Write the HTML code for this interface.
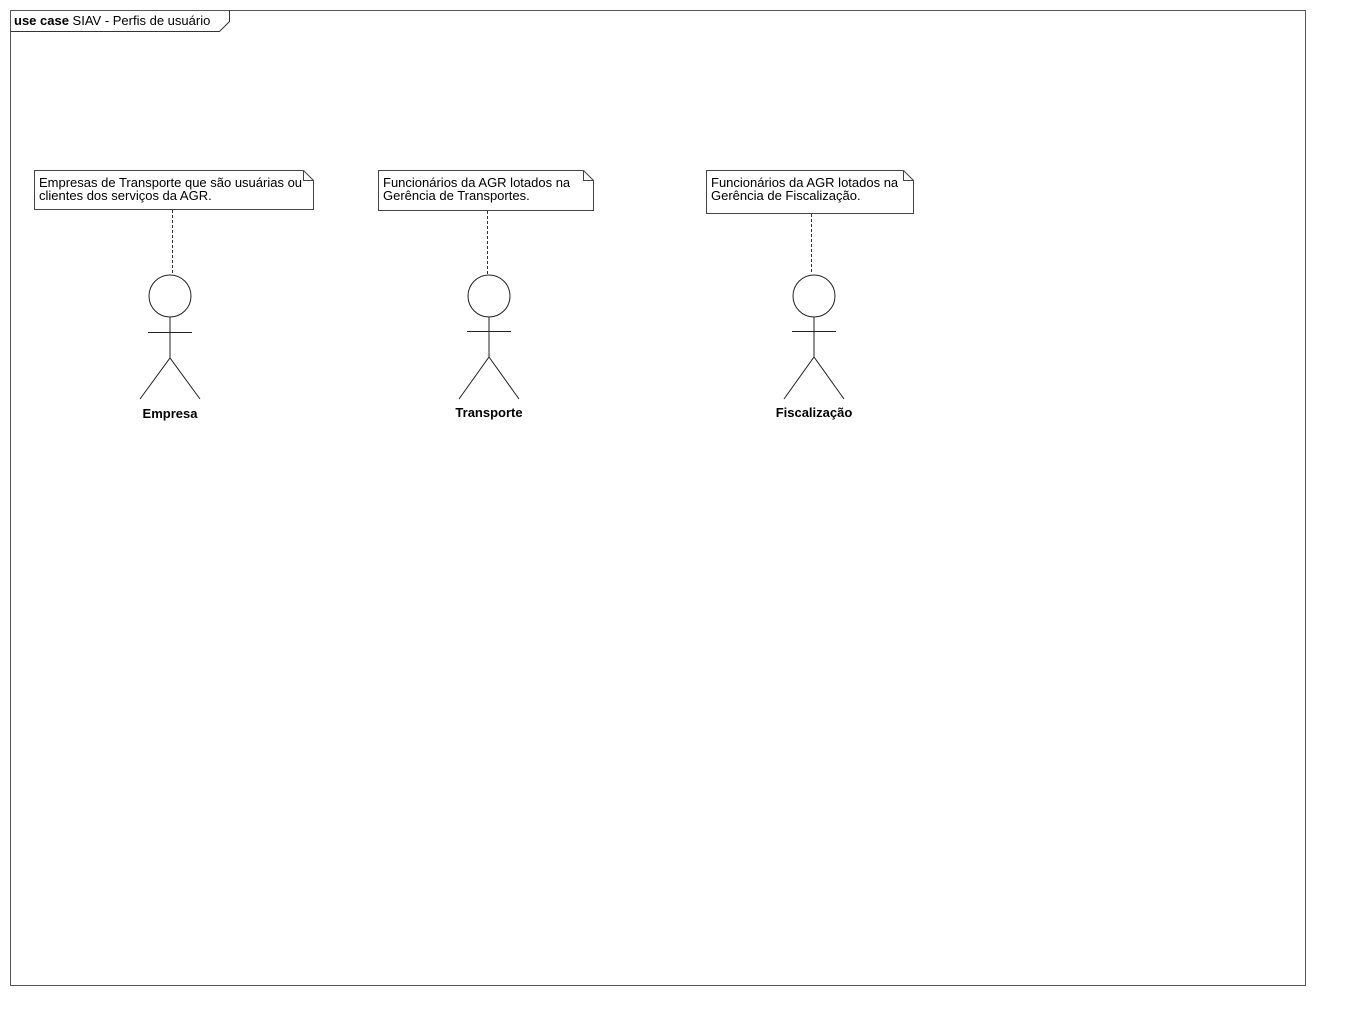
<!DOCTYPE html>
<html><head><meta charset="utf-8"><style>
body{margin:0;background:#fff;width:1346px;height:1026px;overflow:hidden}
svg{display:block}
text{font-family:"Liberation Sans",sans-serif;font-size:13px;fill:#000}
</style></head><body>
<svg width="1346" height="1026" xmlns="http://www.w3.org/2000/svg">
<rect x="10.5" y="10.5" width="1295" height="975" fill="none" stroke="#555" stroke-width="1"/>
<path d="M10.5 31.5 H219.5 L229.5 21.5 V10.5" fill="none" stroke="#333"/>
<text x="14" y="25"><tspan font-weight="bold">use case</tspan> SIAV - Perfis de usuário</text>

<g fill="#fff" stroke="#444">
<path d="M34.5 170.5 H303.5 L313.5 180.5 V209.5 H34.5 Z"/><path d="M303.5 170.5 V180.5 H313.5" fill="none"/>
<path d="M378.5 170.5 H583.5 L593.5 180.5 V210.5 H378.5 Z"/><path d="M583.5 170.5 V180.5 H593.5" fill="none"/>
<path d="M706.5 170.5 H903.5 L913.5 180.5 V213.5 H706.5 Z"/><path d="M903.5 170.5 V180.5 H913.5" fill="none"/>
</g>
<text x="39" y="187">Empresas de Transporte que são usuárias ou</text>
<text x="39" y="200">clientes dos serviços da AGR.</text>
<text x="383" y="187">Funcionários da AGR lotados na</text>
<text x="383" y="200">Gerência de Transportes.</text>
<text x="711" y="187">Funcionários da AGR lotados na</text>
<text x="711" y="200">Gerência de Fiscalização.</text>

<g stroke="#333" stroke-dasharray="3,2">
<line x1="172.5" y1="210" x2="172.5" y2="274"/>
<line x1="487.5" y1="211" x2="487.5" y2="274"/>
<line x1="811.5" y1="214" x2="811.5" y2="274"/>
</g>

<g fill="none" stroke="#222">
<circle cx="170" cy="296" r="21"/>
<line x1="170" y1="317" x2="170" y2="358"/><line x1="148" y1="332.5" x2="192" y2="332.5"/>
<path d="M140 399 L170 358 L200 399"/>
<circle cx="489" cy="296" r="21"/>
<line x1="489" y1="317" x2="489" y2="357"/><line x1="467" y1="331.5" x2="511" y2="331.5"/>
<path d="M459 399 L489 357 L519 399"/>
<circle cx="814" cy="296" r="21"/>
<line x1="814" y1="317" x2="814" y2="357"/><line x1="792" y1="331.5" x2="836" y2="331.5"/>
<path d="M784 399 L814 357 L844 399"/>
</g>
<text x="170" y="418" font-weight="bold" text-anchor="middle">Empresa</text>
<text x="489" y="417" font-weight="bold" text-anchor="middle">Transporte</text>
<text x="814" y="417" font-weight="bold" text-anchor="middle">Fiscalização</text>
</svg>
</body></html>
